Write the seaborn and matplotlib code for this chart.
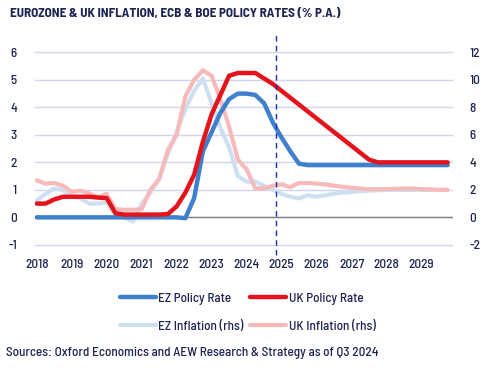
import numpy as np
import pandas as pd
import seaborn as sns
from matplotlib import pyplot as plt

# quarterly, 2018Q1 .. 2029Q4
quarters = np.arange(2018, 2030, 0.25)

ez_policy = [0, 0, 0, 0, 0, 0, 0, 0, 0, 0, 0, 0, 0, 0, 0, 0,
             0, -0.03, 0.7, 2.4, 3.1, 3.8, 4.3, 4.5, 4.5, 4.45, 4.15, 3.45,
             2.9, 2.4, 1.95, 1.9, 1.9, 1.9, 1.9, 1.9, 1.9, 1.9, 1.9, 1.9,
             1.9, 1.9, 1.9, 1.9, 1.9, 1.9, 1.9, 1.9]
uk_policy = [0.5, 0.5, 0.65, 0.75, 0.75, 0.75, 0.75, 0.72, 0.7, 0.15, 0.1, 0.1, 0.1, 0.1, 0.1, 0.12,
             0.4, 0.9, 1.55, 2.75, 3.75, 4.45, 5.15, 5.25, 5.25, 5.25, 5.05, 4.85,
             4.6, 4.35, 4.1, 3.85, 3.6, 3.35, 3.1, 2.85, 2.6, 2.35, 2.1, 2.0,
             2.0, 2.0, 2.0, 2.0, 2.0, 2.0, 2.0, 2.0]
ez_inflation = [1.2, 1.7, 2.1, 2.0, 1.5, 1.4, 1.0, 1.0, 1.1, 0.2, 0.0, -0.3, 1.0, 1.8, 2.8, 4.6,
                6.2, 7.9, 9.2, 10.1, 8.3, 6.5, 5.1, 3.0, 2.6, 2.6, 2.3, 2.0,
                1.7, 1.5, 1.38, 1.6, 1.5, 1.6, 1.72, 1.8, 1.85, 1.9, 1.94, 1.97,
                2.0, 2.0, 2.0, 2.0, 2.0, 2.0, 2.0, 2.0]
uk_inflation = [2.7, 2.45, 2.5, 2.3, 1.85, 1.95, 1.75, 1.45, 1.7, 0.6, 0.55, 0.55, 0.6, 2.0, 2.8, 4.9,
                6.0, 8.8, 10.0, 10.7, 10.3, 8.6, 6.6, 4.2, 3.5, 2.1, 2.1, 2.3,
                2.4, 2.2, 2.5, 2.5, 2.45, 2.4, 2.3, 2.22, 2.15, 2.1, 2.05, 2.05,
                2.05, 2.08, 2.1, 2.1, 2.05, 2.03, 2.0, 2.0]
forecast_start = 2024.85

year_ticks = list(range(2018, 2030))
left_ticks = list(range(-1, 7))
right_ticks = list(range(-2, 13, 2))

navy = '#1d2352'

sns.set_style('white')
plt.rcParams['font.family'] = ['Barlow Semi Condensed', 'DejaVu Sans']
plt.rcParams['font.weight'] = 500
plt.rcParams['text.color'] = navy
plt.rcParams['xtick.color'] = navy
plt.rcParams['ytick.color'] = navy

df = pd.DataFrame({'quarter': quarters, 'ez_policy': ez_policy, 'uk_policy': uk_policy,
                   'ez_inflation': ez_inflation, 'uk_inflation': uk_inflation})

fig = plt.figure(figsize=(4.86, 3.68), dpi=100)
ax = fig.add_axes([0.072, 0.307, 0.86, 0.603])
ax2 = ax.twinx()

# inflation on the right axis, drawn behind the policy rates
ax2.grid(True, axis='y', color='#cfd5ef', lw=1)
ax2.set_axisbelow(True)
sns.lineplot(data=df, x='quarter', y='ez_inflation', ax=ax2, color='#cfdff2', lw=3, label='EZ Inflation (rhs)')
sns.lineplot(data=df, x='quarter', y='uk_inflation', ax=ax2, color='#f7baba', lw=3, label='UK Inflation (rhs)')
ax2.axhline(0, color='#808080', lw=1, zorder=1.5)

sns.lineplot(data=df, x='quarter', y='ez_policy', ax=ax, color='#3f80cc', lw=3.2, label='EZ Policy Rate')
sns.lineplot(data=df, x='quarter', y='uk_policy', ax=ax, color='#e3141b', lw=3.2, label='UK Policy Rate')
ax.axvline(forecast_start, color='#1a30a8', lw=1, ls=(0, (4, 3)), clip_on=False)

ax.set_zorder(ax2.get_zorder() + 1)
ax.patch.set_visible(False)

ax.set_xlim(2017.95, 2029.9)
ax.set_ylim(-1.37, 6.7)
ax2.set_ylim(-2.74, 13.4)
ax.set_xticks(year_ticks)
ax.set_xticklabels([str(y) for y in year_ticks], fontsize=9.5)
ax.set_yticks(left_ticks)
ax.set_yticklabels([str(v) for v in left_ticks], fontsize=9.5)
ax2.set_yticks(right_ticks)
ax2.set_yticklabels([str(v) for v in right_ticks], fontsize=9.5)
ax.tick_params(axis='x', length=0, pad=3)
ax.tick_params(axis='y', length=0, pad=13)
ax2.tick_params(axis='y', length=0, pad=12)
ax.set_xlabel('')
ax.set_ylabel('')
ax2.set_ylabel('')
for a in (ax, ax2):
    for s in a.spines.values():
        s.set_visible(False)

h1, l1 = ax.get_legend_handles_labels()
h2, l2 = ax2.get_legend_handles_labels()
ax.get_legend().remove()
ax2.get_legend().remove()
handles = [h1[0], h2[0], h1[1], h2[1]]
labels = [l1[0], l2[0], l1[1], l2[1]]
fig.legend(handles, labels, ncol=2, loc='center', bbox_to_anchor=(0.51, 0.15), frameon=False,
           prop={'size': 9.5, 'weight': 500}, handlelength=2.7, handletextpad=0.2,
           columnspacing=0.5, labelspacing=1.2)

fig.text(0.02, 0.962, 'EUROZONE & UK INFLATION, ECB & BOE POLICY RATES (% P.A.)', fontsize=9.5,
         fontweight='bold', va='center')
fig.text(0.012, 0.04, 'Sources: Oxford Economics and AEW Research & Strategy as of Q3 2024', fontsize=9.5,
         va='center')

fig.savefig('out.png', dpi=100)
